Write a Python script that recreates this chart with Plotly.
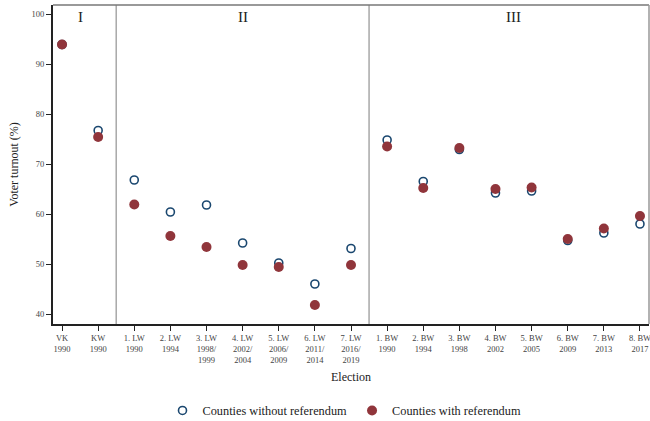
import plotly.graph_objects as go

categories = ["VK<br>1990", "KW<br>1990", "1. LW<br>1990", "2. LW<br>1994", "3. LW<br>1998/<br>1999",
              "4. LW<br>2002/<br>2004", "5. LW<br>2006/<br>2009", "6. LW<br>2011/<br>2014", "7. LW<br>2016/<br>2019",
              "1. BW<br>1990", "2. BW<br>1994", "3. BW<br>1998", "4. BW<br>2002", "5. BW<br>2005",
              "6. BW<br>2009", "7. BW<br>2013", "8. BW<br>2017"]
without_ref = [94.0, 76.8, 66.9, 60.5, 61.9, 54.3, 50.3, 46.1, 53.2,
               74.9, 66.6, 73.0, 64.3, 64.7, 54.8, 56.3, 58.1]
with_ref = [94.0, 75.5, 62.0, 55.7, 53.5, 49.9, 49.5, 41.9, 49.9,
            73.6, 65.3, 73.3, 65.1, 65.4, 55.1, 57.2, 59.7]
yticks = [40, 50, 60, 70, 80, 90, 100]
period_labels = ["I", "II", "III"]
period_pos = [0.5, 5, 12.5]
dividers = [1.5, 8.5]

x = list(range(len(categories)))
FONT = "Liberation Serif"

fig = go.Figure()
fig.add_trace(go.Scatter(
    x=x, y=without_ref, mode="markers", name="Counties without referendum",
    marker=dict(symbol="circle", size=8, color="white",
                line=dict(color="#1a476f", width=1.6)),
))
fig.add_trace(go.Scatter(
    x=x, y=with_ref, mode="markers", name="Counties with referendum",
    marker=dict(symbol="circle", size=10, color="#90353b",
                line=dict(color="#90353b", width=0)),
))

for d in dividers:
    fig.add_shape(type="line", xref="x", yref="paper", x0=d, x1=d, y0=0, y1=1,
                  line=dict(color="#a8a8a8", width=1.5), layer="below")

for lab, p in zip(period_labels, period_pos):
    fig.add_annotation(x=p, y=0.995, xref="x", yref="paper", text=lab, showarrow=False,
                       yanchor="top", font=dict(family=FONT, size=15, color="#222"))

fig.update_layout(
    width=650, height=421,
    margin=dict(l=53, r=1, t=5, b=97, autoexpand=False),
    paper_bgcolor="white", plot_bgcolor="white",
    font=dict(family=FONT, color="#333"),
    showlegend=True,
    legend=dict(orientation="h", x=0.53, xanchor="center", xref="container",
                y=0.025, yanchor="middle", yref="container",
                font=dict(family=FONT, size=12.3, color="#222"), itemwidth=30,
                traceorder="normal"),
    xaxis=dict(
        range=[-0.25, 16.25], tickmode="array", tickvals=x, ticktext=categories,
        tickfont=dict(family=FONT, size=8.5, color="#444"),
        ticks="outside", ticklen=5, tickcolor="#222", tickwidth=1,
        showline=True, linecolor="#222", linewidth=2, mirror=False,
        showgrid=False, zeroline=False, automargin=False, ticklabeloverflow="allow",
        title=dict(text="Election", font=dict(family=FONT, size=12, color="#222"), standoff=8),
    ),
    yaxis=dict(
        range=[38.1, 101.9], tickmode="array", tickvals=yticks,
        tickfont=dict(family=FONT, size=8.5, color="#444"),
        ticks="outside", ticklen=5, tickcolor="#222", tickwidth=1,
        showline=True, linecolor="#222", linewidth=2,
        showgrid=False, zeroline=False, automargin=False,
        title=dict(text="Voter turnout (%)", font=dict(family=FONT, size=12, color="#222"), standoff=10),
    ),
)

# top and right frame
fig.add_shape(type="line", xref="paper", yref="paper", x0=0, x1=1, y0=1, y1=1,
              line=dict(color="#777", width=1.5))
fig.add_shape(type="line", xref="paper", yref="paper", x0=1, x1=1, y0=0, y1=1,
              line=dict(color="#999", width=1.5))

fig.write_html("out.html", config={"displayModeBar": False},
               post_script="document.body.style.margin='0';document.body.style.overflow='hidden';")
